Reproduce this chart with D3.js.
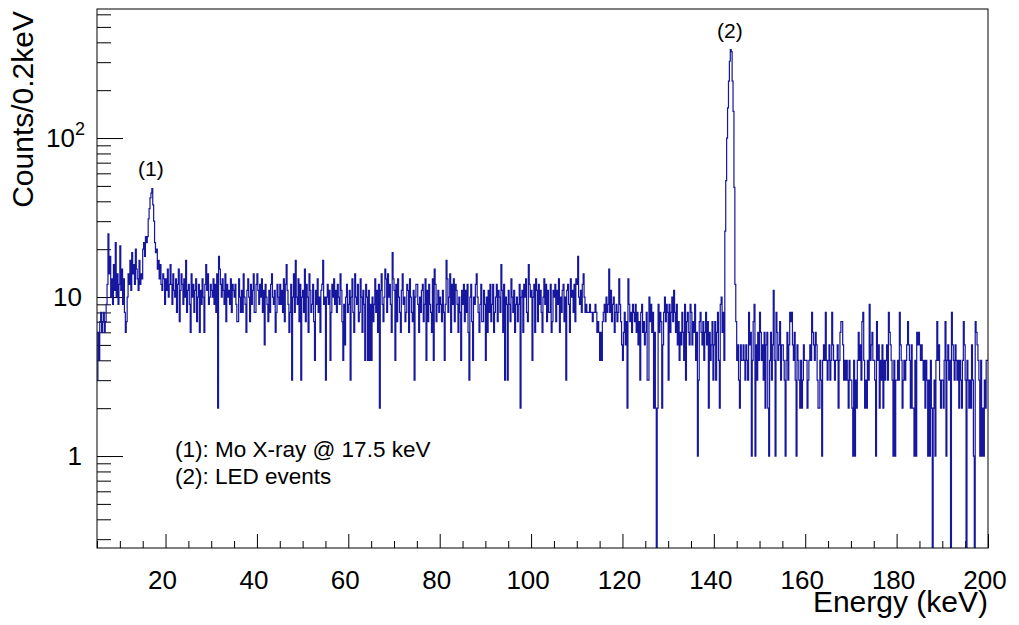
<!DOCTYPE html>
<html>
<head>
<meta charset="utf-8">
<script src="https://cdn.jsdelivr.net/npm/d3@7"></script>
<style>
  body { margin: 0; background: #ffffff; }
  svg { display: block; font-family: "Liberation Sans", Arial, Helvetica, sans-serif; }
</style>
</head>
<body>
<div id="spectrum"></div>
<script>

/*******************************/
/*            Data             */
/*******************************/
const energyMin = 5;      // keV, low edge of first bin
const energyMax = 200;    // keV, high edge of last bin
const binWidth = 0.2;     // keV

// counts per 0.2 keV bin, one row = 5 keV (25 bins)
const counts = [
  [3,6,4,7,8,6,7,8,6,7,9,12,25,14,18,10,13,9,16,11,22,10,14,9,12],           //   5 -  10
  [21,11,15,9,13,8,6,7,10,14,12,17,11,19,14,16,12,20,15,13,11,17,12,14,13],  //  10 -  15
  [20,22,18,24,22,24,31,36,42,45,48,38,30,22,19,20,15,17,13,16,12,11,14,13,9],//  15 -  20
  [13,11,15,10,12,16,12,9,14,11,10,13,8,12,15,7,11,14,12,9,13,10,17,8,11],   //  20 -  25
  [12,9,6,14,10,12,8,11,13,7,10,12,6,11,9,13,10,6,12,16,11,14,9,10,12],      //  25 -  30
  [11,10,13,9,12,8,14,2,18,15,12,10,13,11,9,14,7,12,10,11,9,13,8,12,11],     //  30 -  35
  [10,12,9,7,7,13,10,8,11,8,14,10,9,6,11,13,10,7,12,9,11,14,8,8,12],         //  35 -  40
  [14,11,9,12,10,13,8,11,5,12,10,9,7,11,8,12,14,10,9,11,6,8,12,10,9],        //  40 -  45
  [12,9,11,8,13,7,12,16,11,9,6,8,12,3,10,14,8,17,10,9,13,7,12,3,10],         //  45 -  50
  [11,8,15,7,12,10,6,14,11,8,9,12,7,4,11,9,13,8,10,6,11,12,17,9,10],         //  50 -  55
  [3,10,12,9,11,4,8,12,10,13,9,11,8,12,10,9,14,11,7,4,9,5,10,12,8],          //  55 -  60
  [9,11,3,10,13,8,6,14,10,9,12,7,8,13,10,6,11,9,4,12,10,4,11,4,9],           //  60 -  65
  [4,10,7,9,13,8,11,6,12,2,11,14,9,7,10,15,13,8,14,10,12,9,6,19,13],         //  65 -  70
  [11,4,12,7,13,10,8,6,11,14,9,10,7,8,12,11,6,13,10,8,7,11,3,10,12],         //  70 -  75
  [12,9,6,10,8,11,12,7,9,13,4,11,7,12,9,8,6,13,4,15,12,7,9,11,8],            //  75 -  80
  [10,9,7,11,8,4,9,17,13,8,10,14,6,12,9,13,7,12,11,9,6,10,8,4,11],           //  80 -  85
  [9,12,7,11,8,12,6,3,10,12,7,4,10,9,12,14,10,8,6,9,12,7,7,11,9],            //  85 -  90
  [4,10,6,11,8,12,7,9,12,6,8,10,12,7,11,10,8,16,11,6,12,3,10,9,3],           //  90 -  95
  [11,9,7,13,10,8,11,6,9,10,7,9,12,2,10,11,6,12,10,13,8,7,16,12,10],         //  95 - 100
  [11,4,10,12,6,13,11,7,12,9,11,8,6,10,13,9,12,7,11,8,8,12,6,7,11],          // 100 - 105
  [10,12,7,11,9,13,6,10,8,11,12,7,10,3,11,12,9,6,13,10,11,8,12,7,13],        // 105 - 110
  [12,18,10,9,11,8,12,14,10,8,9,8,8,8,9,8,8,7,8,8,9,8,6,7,6],                // 110 - 115
  [4,6,4,7,8,9,7,10,8,9,15,8,11,7,9,10,6,8,9,7,8,13,9,7,5],                  // 115 - 120
  [4,6,8,5,7,2,13,9,7,8,6,9,8,7,9,6,8,5,7,3,8,9,6,7,5],                      // 120 - 125
  [6,8,3,3,10,7,9,6,8,2,6,2,0,2,9,6,8,7,2,5,8,10,7,9,8],                     // 125 - 130
  [3,9,6,8,10,7,11,8,6,9,5,7,4,6,5,8,6,4,9,3,7,8,6,5,9],                     // 130 - 135
  [8,5,7,6,9,4,6,1,3,7,8,6,5,7,4,6,8,5,7,2,6,4,5,7,3],                       // 135 - 140
  [5,7,3,6,8,4,2,9,10,6,8,4,26,54,100,155,228,304,360,350,228,147,49,12,7],  // 140 - 145
  [4,5,3,2,5,4,4,5,4,3,5,4,3,8,5,6,1,4,7,9,1,5,3,6,4],                       // 145 - 150
  [8,6,4,5,3,6,2,5,6,2,1,4,6,3,5,11,4,1,8,6,4,5,7,3,5],                      // 150 - 155
  [5,4,3,1,4,6,3,5,8,7,8,5,4,6,3,1,5,4,3,2,4,2,3,5,4],                       // 155 - 160
  [4,4,2,3,4,5,4,8,6,5,4,6,5,3,2,2,4,3,1,4,5,4,8,4,3],                       // 160 - 165
  [4,5,3,4,8,5,4,3,4,4,5,2,4,6,7,7,5,3,4,3,4,3,2,4,3],                       // 165 - 170
  [3,2,1,4,1,3,2,4,6,4,5,3,7,8,4,2,3,2,4,3,9,4,5,6,4],                       // 170 - 175
  [4,3,1,7,4,5,2,4,3,5,2,4,3,4,5,3,8,6,5,4,3,1,4,1,3],                       // 175 - 180
  [3,4,3,8,5,4,2,3,4,3,4,5,7,5,4,2,5,2,2,1,4,1,6,5,6],                       // 180 - 185
  [5,4,5,4,3,4,2,4,3,1,3,1,4,2,0,2,3,1,4,7,4,5,3,2,3],                       // 185 - 190
  [3,2,4,7,1,4,5,3,4,0,8,5,4,3,5,4,3,4,2,4,3,2,4,7,5],                       // 190 - 195
  [3,0,4,3,2,3,2,5,3,1,0,7,6,5,4,3,1,4,1,2,1,3,2,4,4]                        // 195 - 200
].flat();

const xMajorTicks = [20, 40, 60, 80, 100, 120, 140, 160, 180, 200];
const xMinorTicks = [5, 10, 15, 25, 30, 35, 45, 50, 55, 65, 70, 75, 85, 90, 95,
                     105, 110, 115, 125, 130, 135, 145, 150, 155, 165, 170, 175, 185, 190, 195];
const yMajorTicks = [1, 10, 100];
const yMinorTicks = [0.3, 0.4, 0.5, 0.6, 0.7, 0.8, 0.9, 2, 3, 4, 5, 6, 7, 8, 9,
                     20, 30, 40, 50, 60, 70, 80, 90, 200, 300, 400, 500, 600];
const yLabels = [
  {value: 1, base: "1", exp: ""},
  {value: 10, base: "10", exp: ""},
  {value: 100, base: "10", exp: "2"}
];
const peakLabels = [
  {text: "(1)", energy: 16.8, count: 58},
  {text: "(2)", energy: 143.5, count: 425}
];
const legendLines = ["(1): Mo X-ray @ 17.5 keV", "(2): LED events"];
const xTitle = "Energy (keV)";
const yTitle = "Counts/0.2keV";


/*******************************/
/*    Declare the constants    */
/*******************************/
const width = 1019;
const height = 625;
const margin = {top: 9, right: 31, bottom: 77, left: 97};
const innerWidth = width - margin.left - margin.right;
const innerHeight = height - margin.top - margin.bottom;
const histColor = "#16169e";


/*******************************/
/*    Append the containers    */
/*******************************/
const svg = d3.select("#spectrum")
  .append("svg")
    .attr("width", width)
    .attr("height", height)
    .attr("viewBox", `0 0 ${width} ${height}`);

const innerChart = svg
  .append("g")
    .attr("transform", `translate(${margin.left}, ${margin.top})`);

svg.append("defs")
  .append("clipPath")
    .attr("id", "frame-clip")
  .append("rect")
    .attr("x", 0)
    .attr("y", 0)
    .attr("width", innerWidth)
    .attr("height", innerHeight);


/****************************/
/*    Declare the scales    */
/****************************/
const xScale = d3.scaleLinear()
  .domain([energyMin, energyMax])
  .range([0, innerWidth]);

const yScale = d3.scaleLog()
  .domain([0.264, 648])
  .range([innerHeight, 0]);


/**************************/
/*      Add the axes      */
/**************************/
// ticks point inwards like ROOT; labels are drawn separately below
const styleAxis = g => {
  g.select(".domain").remove();
  g.selectAll(".tick line").attr("stroke", "#000").attr("stroke-width", 1);
  g.selectAll(".tick text").remove();
};

innerChart.append("g")
    .attr("transform", `translate(0, ${innerHeight})`)
    .call(d3.axisBottom(xScale).tickValues(xMinorTicks).tickSize(-7))
    .call(styleAxis);

innerChart.append("g")
    .attr("transform", `translate(0, ${innerHeight})`)
    .call(d3.axisBottom(xScale).tickValues(xMajorTicks).tickSize(-14))
    .call(styleAxis);

innerChart.append("g")
    .call(d3.axisLeft(yScale).tickValues(yMinorTicks).tickSize(-14))
    .call(styleAxis);

innerChart.append("g")
    .call(d3.axisLeft(yScale).tickValues(yMajorTicks).tickSize(-26))
    .call(styleAxis);

// x labels
svg.append("g")
  .selectAll("text")
  .data(xMajorTicks)
  .join("text")
    .attr("x", d => margin.left + xScale(d) - 3)
    .attr("y", margin.top + innerHeight + 41)
    .attr("text-anchor", "middle")
    .attr("font-size", 26)
    .attr("fill", "#000")
    .text(d => d);

// y labels with power-of-ten superscript
const yLabelGroup = svg.append("g");
yLabels.forEach(d => {
  const yPos = margin.top + yScale(d.value);
  yLabelGroup.append("text")
      .attr("x", margin.left + (d.exp ? -22 : -15))
      .attr("y", yPos + 9)
      .attr("text-anchor", "end")
      .attr("font-size", 26)
      .attr("fill", "#000")
      .text(d.base);
  if (d.exp) {
    yLabelGroup.append("text")
        .attr("x", margin.left - 22)
        .attr("y", yPos - 3)
        .attr("font-size", 18)
        .attr("fill", "#000")
        .text(d.exp);
  }
});


/*******************************/
/*     Append the histogram    */
/*******************************/
const points = [];
counts.forEach((c, i) => {
  const lo = energyMin + i * binWidth;
  const hi = lo + binWidth;
  const yv = c > 0 ? yScale(c) : innerHeight + 2;
  points.push([xScale(lo), yv], [xScale(hi), yv]);
});

innerChart.append("path")
    .attr("clip-path", "url(#frame-clip)")
    .attr("d", d3.line()(points))
    .attr("fill", "none")
    .attr("stroke", histColor)
    .attr("stroke-width", 1.2)
    .attr("stroke-linejoin", "miter");

// frame
innerChart.append("rect")
    .attr("width", innerWidth)
    .attr("height", innerHeight)
    .attr("fill", "none")
    .attr("stroke", "#000")
    .attr("stroke-width", 1);


/*******************************/
/*        Annotations          */
/*******************************/
innerChart.selectAll(".peak-label")
  .data(peakLabels)
  .join("text")
    .attr("class", "peak-label")
    .attr("x", d => xScale(d.energy))
    .attr("y", d => yScale(d.count))
    .attr("text-anchor", "middle")
    .attr("font-size", 21)
    .attr("fill", "#000")
    .text(d => d.text);

svg.selectAll(".legend-line")
  .data(legendLines)
  .join("text")
    .attr("class", "legend-line")
    .attr("x", 175)
    .attr("y", (d, i) => 457 + i * 27)
    .attr("font-size", 22.5)
    .attr("fill", "#000")
    .text(d => d);

// axis titles
svg.append("text")
    .attr("x", margin.left + innerWidth)
    .attr("y", 612)
    .attr("text-anchor", "end")
    .attr("font-size", 30)
    .attr("fill", "#000")
    .text(xTitle);

svg.append("text")
    .attr("transform", `translate(33, ${margin.top + 2}) rotate(-90)`)
    .attr("text-anchor", "end")
    .attr("font-size", 30)
    .attr("fill", "#000")
    .text(yTitle);

</script>
</body>
</html>
